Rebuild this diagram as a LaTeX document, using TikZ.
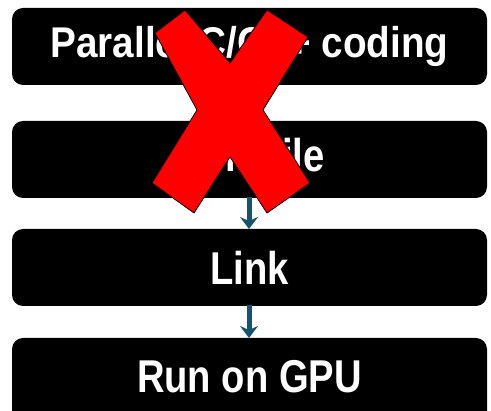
\documentclass[tikz,border=0pt]{standalone}
\usepackage{fontspec}
\setmainfont{Liberation Sans}
\newfontfamily\boxfont[FakeStretch=0.83]{Liberation Sans}
\newfontfamily\widefont[FakeStretch=0.9]{Liberation Sans}
\usetikzlibrary{arrows.meta}
\definecolor{flowarrow}{RGB}{22,84,110}
\definecolor{crossred}{RGB}{255,0,0}
\begin{document}
\begin{tikzpicture}[x=1pt,y=-1pt,
  stepbox/.style={fill=black,rounded corners=11pt},
  steplabel/.style={text=white,font=\boxfont\bfseries\fontsize{46}{50}\selectfont,inner sep=0pt},
  flow/.style={draw=flowarrow,line width=5pt,-{Stealth[width=18pt,length=12pt,inset=4pt]}}]
  \useasboundingbox (0,0) rectangle (491,411);
  \begin{scope}
    \clip (0,0) rectangle (491,411);
    % four process boxes
    \path[stepbox] (12,8) rectangle (487,85);
    \path[stepbox] (12,121) rectangle (487,198);
    \path[stepbox] (12,229) rectangle (487,306);
    \path[stepbox] (12,338) rectangle (487,425);
  \end{scope}
  \coordinate (b1) at (249.5,46.5);
  \coordinate (b2) at (249.5,159.5);
  \coordinate (b3) at (249.5,267.5);
  \coordinate (b4) at (249.5,376.5);
  \node[steplabel,font=\widefont\bfseries\fontsize{43}{48}\selectfont] (t1) at (b1) {Parallel C/C++ coding};
  \node[steplabel] (t2) at (b2) {Compile};
  \node[steplabel] (t3) at (b3) {Link};
  \node[steplabel] (t4) at (b4) {Run on GPU};
  % connectors between the lower steps
  \coordinate (a1s) at (249,197);
  \coordinate (a1e) at (249,229);
  \coordinate (a2s) at (249,305);
  \coordinate (a2e) at (249,338);
  \draw[flow] (a1s) -- (a1e);
  \draw[flow] (a2s) -- (a2e);
  % red cross over the first two steps
  \filldraw[fill=crossred,draw=black,line width=0.8pt,line join=miter]
    (155,33) -- (185,10) -- (230,63) -- (267,10) -- (308,37) -- (263,110)
    -- (310,183) -- (267,213) -- (230,157) -- (194,213) -- (152,183)
    -- (197,110) -- cycle;
\end{tikzpicture}
\end{document}
